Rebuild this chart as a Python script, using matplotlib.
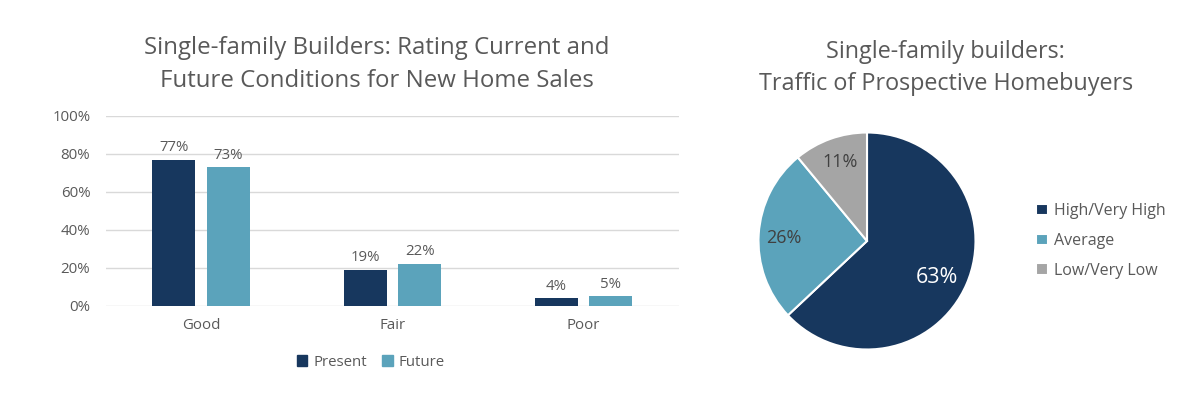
import matplotlib.pyplot as plt
import numpy as np
from matplotlib.patches import Patch

plt.rcParams['font.family'] = ['Open Sans', 'DejaVu Sans']

# bar chart data
categories = ['Good', 'Fair', 'Poor']
present = [77, 19, 4]
future = [73, 22, 5]

# pie chart data
traffic_labels = ['High/Very High', 'Average', 'Low/Very Low']
traffic_values = [63, 26, 11]

navy = '#17375E'
teal = '#5BA3BB'
grey = '#A5A5A5'
text_col = '#595959'

fig = plt.figure(figsize=(12, 3.94), dpi=100)

# ---- bar chart ----
ax = fig.add_axes([0.088, 0.2234, 0.478, 0.4822])
x = np.arange(len(categories))
w = 0.225
off = 0.143
b1 = ax.bar(x - off, present, w, color=navy, label='Present')
b2 = ax.bar(x + off, future, w, color=teal, label='Future')
for bars, vals in ((b1, present), (b2, future)):
    for b, v in zip(bars, vals):
        ax.text(b.get_x() + b.get_width() / 2, v + 2.5, '%d%%' % v,
                ha='center', va='bottom', fontsize=10.8, color=text_col)

ax.set_xlim(-0.5, 2.5)
ax.set_ylim(0, 100)
ax.set_yticks(range(0, 101, 20))
ax.set_yticklabels(['%d%%' % t for t in range(0, 101, 20)])
ax.set_xticks(x)
ax.set_xticklabels(categories)
ax.tick_params(axis='both', length=0, labelsize=10.8, colors=text_col)
ax.tick_params(axis='x', pad=9)
ax.tick_params(axis='y', pad=11)
ax.grid(axis='y', color='#D9D9D9', linewidth=1)
ax.set_axisbelow(True)
for s in ax.spines.values():
    s.set_visible(False)

fig.text(0.314, 0.878, 'Single-family Builders: Rating Current and',
         ha='center', va='center', fontsize=17.3, color=text_col)
fig.text(0.314, 0.795, 'Future Conditions for New Home Sales',
         ha='center', va='center', fontsize=17.3, color=text_col)

fig.legend(handles=[Patch(color=navy, label='Present'), Patch(color=teal, label='Future')],
           loc='center', bbox_to_anchor=(0.309, 0.081), ncol=2, frameon=False,
           fontsize=10.8, handlelength=0.7, handleheight=0.7, handletextpad=0.4,
           columnspacing=1.0, labelcolor=text_col)

# ---- pie chart ----
r_px = 108.5
pax = fig.add_axes([(867 - r_px) / 1200, (394 - 241 - r_px) / 394,
                    2 * r_px / 1200, 2 * r_px / 394])
wedges, texts, autotexts = pax.pie(
    traffic_values, colors=[navy, teal, grey], startangle=90, counterclock=False,
    autopct='%d%%', pctdistance=0.75,
    wedgeprops=dict(edgecolor='white', linewidth=1.5))
label_pos = [(0.64, -0.34), (-0.77, 0.03), (-0.25, 0.73)]
for t, pos in zip(autotexts, label_pos):
    t.set_position(pos)
    t.set_color('#404040')
    t.set_fontsize(13)
autotexts[0].set_color('white')
autotexts[0].set_fontsize(15.5)
pax.set_xlim(-1, 1)
pax.set_ylim(-1, 1)

fig.text(0.788, 0.868, 'Single-family builders:',
         ha='center', va='center', fontsize=16.8, color=text_col)
fig.text(0.788, 0.787, 'Traffic of Prospective Homebuyers',
         ha='center', va='center', fontsize=16.8, color=text_col)

pax.legend(wedges, traffic_labels, loc='center left',
           bbox_to_anchor=(1022 / 1200, 1 - 241 / 394), bbox_transform=fig.transFigure,
           frameon=False, fontsize=11.5, handlelength=0.7, handleheight=0.7,
           handletextpad=0.4, labelspacing=0.85, labelcolor=text_col)

fig.savefig('out.png', dpi=100)
